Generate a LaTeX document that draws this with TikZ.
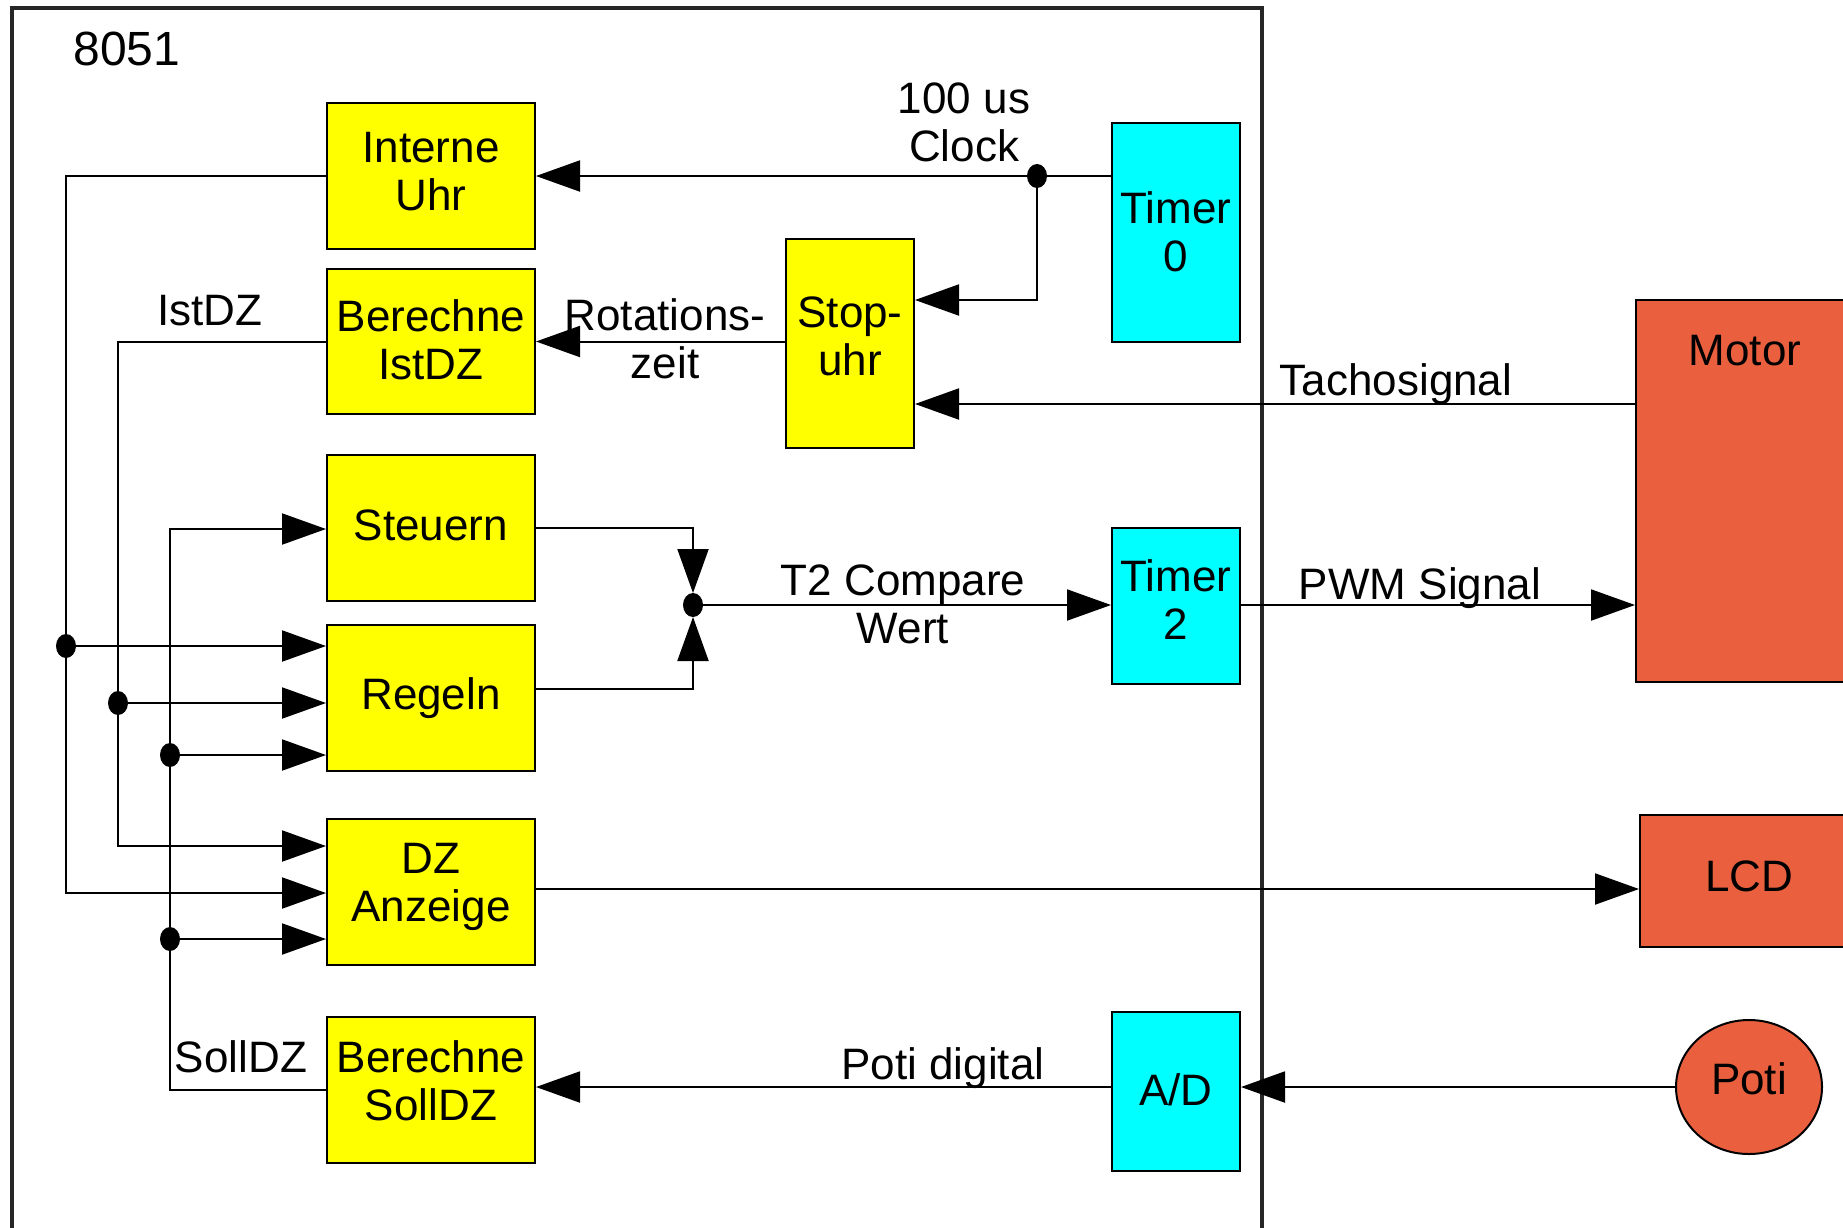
\documentclass[tikz,border=0pt]{standalone}
\usepackage{fontspec}
\setmainfont{Liberation Sans}
\usetikzlibrary{arrows.meta,shapes.geometric}
\definecolor{boxyellow}{RGB}{255,255,0}
\definecolor{boxcyan}{RGB}{0,255,255}
\definecolor{boxred}{RGB}{234,96,62}
\begin{document}
\begin{tikzpicture}[x=1pt,y=-1pt,
  font=\fontsize{44}{48}\selectfont,
  blk/.style={draw=black, line width=2pt, inner sep=0pt, align=center},
  ybox/.style={blk, fill=boxyellow, minimum width=208pt, minimum height=146pt},
  cbox/.style={blk, fill=boxcyan, minimum width=128pt},
  rbox/.style={blk, fill=boxred},
  lbl/.style={inner sep=0pt, align=center},
  conn/.style={line width=2pt, draw=black},
  arr/.style={conn, -{Triangle[length=44pt, width=31pt]}},
  jdot/.style={fill=black}
]
\useasboundingbox (0,0) rectangle (1843,1227);
\clip (0,0) rectangle (1843,1227);
\fill[white] (0,0) rectangle (1843,1227);

% 8051 frame
\draw[line width=4.5pt, draw=black!85] (12,1250) -- (12,8) -- (1262,8) -- (1262,1250);
\node[lbl, font=\fontsize{48}{54}\selectfont] (title) at (127,49) {8051};

% blocks
\node[ybox, text depth=10pt] (intern) at (431,176) {Interne\\Uhr};
\node[ybox, minimum height=145pt, text depth=4pt] (bist) at (431,341.5) {Berechne\\IstDZ};
\node[ybox, text depth=6pt] (steuern) at (431,528) {Steuern};
\node[ybox, text depth=9pt] (regeln) at (431,698) {Regeln};
\node[ybox, text depth=19pt] (dz) at (431,892) {DZ\\Anzeige};
\node[ybox, text depth=18pt] (bsoll) at (431,1090) {Berechne\\SollDZ};
\node[ybox, minimum width=128pt, minimum height=209pt, text depth=14pt] (stop) at (850,343.5) {Stop-\\uhr};
\node[cbox, minimum height=219pt, text depth=2pt] (t0) at (1176,232.5) {Timer\\0};
\node[cbox, minimum height=156pt, text depth=12pt] (t2) at (1176,606) {Timer\\2};
\node[cbox, minimum height=159pt, text depth=3pt] (ad) at (1176,1091.5) {A/D};
\node[rbox, minimum width=218pt, minimum height=382pt,
      label={[lbl, anchor=north, yshift=-36pt]north:Motor}] (motor) at (1745,491) {};
\node[rbox, minimum width=218pt, minimum height=132pt, text depth=10pt] (lcd) at (1749,881) {LCD};
\node[rbox, ellipse, minimum width=146pt, minimum height=134pt, text depth=16pt] (poti) at (1749,1087) {Poti};

% helper coordinates
\coordinate (clk) at (1037,176);
\coordinate (yclk2) at (0,300);
\coordinate (ytacho) at (0,404);
\coordinate (cmp) at (693,605);
\coordinate (yreg) at (0,689);
\coordinate (ylcd) at (0,889);
\coordinate (a2) at (66,893);
\coordinate (adot) at (66,646);
\coordinate (b2) at (118,846);
\coordinate (bdot) at (118,703);
\coordinate (c2) at (170,529);
\coordinate (cdot1) at (170,755);
\coordinate (cdot2) at (170,939);

% top signals
\draw[arr] (t0.west |- intern.east) -- (intern.east);
\draw[arr] (clk) |- (stop.east |- yclk2);
\fill[jdot] (clk) ellipse[x radius=10, y radius=12];
\draw[arr] (stop.west |- bist.east) -- (bist.east);
\draw[arr] (motor.west |- ytacho) -- (stop.east |- ytacho);

% compare
\draw[arr, shorten >=12pt] (steuern.east) -| (cmp);
\draw[arr, shorten >=12pt] (regeln.east |- yreg) -| (cmp);
\fill[jdot] (cmp) ellipse[x radius=10, y radius=12];
\draw[arr] (cmp) -- (t2.west |- cmp);
\draw[arr] (t2.east |- cmp) -- (motor.west |- cmp);

% LCD, Poti
\draw[arr] (dz.east |- ylcd) -- (lcd.west |- ylcd);
\draw[arr] (poti.west) -- (ad.east |- poti.west);
\draw[arr] (ad.west |- poti.west) -- (bsoll.east |- poti.west);

% left bus
\draw[arr] (intern.west) -| (a2) -- (dz.west |- a2);
\draw[arr] (adot) -- (regeln.west |- adot);
\fill[jdot] (adot) ellipse[x radius=10, y radius=12];
\draw[arr] (bist.west) -| (b2) -- (dz.west |- b2);
\draw[arr] (bdot) -- (regeln.west |- bdot);
\fill[jdot] (bdot) ellipse[x radius=10, y radius=12];
\draw[arr] (bsoll.west) -| (c2) -- (steuern.west |- c2);
\draw[arr] (cdot1) -- (regeln.west |- cdot1);
\fill[jdot] (cdot1) ellipse[x radius=10, y radius=12];
\draw[arr] (cdot2) -- (dz.west |- cdot2);
\fill[jdot] (cdot2) ellipse[x radius=10, y radius=12];

% labels
\node[lbl] (lclk) at (964,122) {100 us\\Clock};
\node[lbl] (lrot) at (665,339) {Rotations-\\zeit};
\node[lbl] (listdz) at (210,311) {IstDZ};
\node[lbl] (lsoll) at (241,1057) {SollDZ};
\node[lbl] (ltacho) at (1396,384) {Tachosignal};
\node[lbl] (lt2) at (903,604) {T2 Compare\\Wert};
\node[lbl] (lpwm) at (1420,588) {PWM Signal};
\node[lbl] (lpoti) at (943,1068) {Poti digital};
\end{tikzpicture}
\end{document}
